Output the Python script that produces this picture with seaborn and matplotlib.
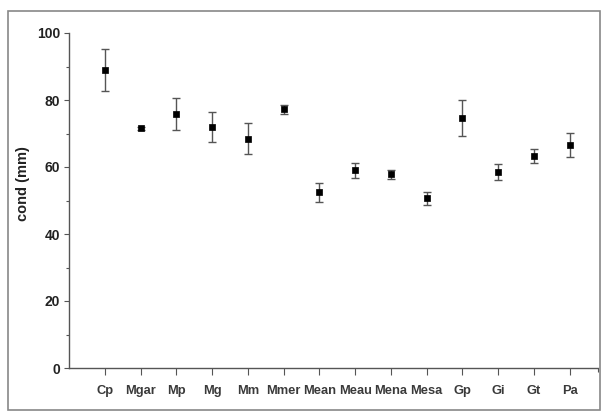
import matplotlib
matplotlib.use("Agg")
import matplotlib.pyplot as plt
import seaborn as sns
import pandas as pd
from matplotlib.patches import Rectangle
from matplotlib.ticker import MultipleLocator

categories = ["Cp", "Mgar", "Mp", "Mg", "Mm", "Mmer", "Mean", "Meau",
              "Mena", "Mesa", "Gp", "Gi", "Gt", "Pa"]
means = [89.0, 71.5, 75.8, 72.0, 68.5, 77.2, 52.4, 59.0,
         57.8, 50.6, 74.6, 58.5, 63.3, 66.6]
errors = [6.2, 0.4, 4.9, 4.5, 4.6, 1.4, 2.8, 2.2,
          1.3, 1.9, 5.4, 2.4, 2.2, 3.6]

df = pd.DataFrame({"pos": range(1, len(categories) + 1),
                   "cat": categories, "mean": means, "err": errors})

sns.set_theme(style="white")
plt.rcParams["font.family"] = ["Liberation Sans", "DejaVu Sans"]

fig = plt.figure(figsize=(6.04, 4.13), dpi=100)
ax = fig.add_axes([69 / 604, 45 / 413, 529.3 / 604, 335 / 413])

ax.errorbar(df["pos"], df["mean"], yerr=df["err"], fmt="none",
            ecolor="#555555", elinewidth=1.0, capsize=3, capthick=1.0, zorder=2)
sns.scatterplot(data=df, x="pos", y="mean", marker="s", s=20, color="black",
                edgecolor="black", linewidth=0.5, ax=ax, zorder=3, legend=False)

ax.set_xlim(0, 14.8)
ax.set_ylim(0, 100)
ax.set_xticks(df["pos"])
ax.set_xticks([14.8], minor=True)
ax.set_xticklabels(categories, fontsize=9.3, fontweight="bold", color="#3a3a3a")
ax.yaxis.set_major_locator(MultipleLocator(20))
ax.yaxis.set_minor_locator(MultipleLocator(10))
for lab in ax.get_yticklabels():
    lab.set_fontsize(10)
    lab.set_fontweight("bold")
    lab.set_color("#222222")

ax.tick_params(axis="x", which="major", direction="out", length=5, width=0.8,
               color="#555555", pad=7, bottom=True)
ax.tick_params(axis="x", which="minor", direction="out", length=3, width=0.8,
               color="#555555", bottom=True)
ax.tick_params(axis="y", which="major", direction="out", length=3.5, width=0.8,
               color="#555555", pad=3, left=True)
ax.tick_params(axis="y", which="minor", direction="out", length=2, width=0.8,
               color="#555555", left=True)

for side in ["top", "right"]:
    ax.spines[side].set_visible(False)
for side in ["left", "bottom"]:
    ax.spines[side].set_color("#555555")
    ax.spines[side].set_linewidth(1.0)

ax.set_xlabel("")
ax.set_ylabel("cond (mm)", fontsize=10.5, fontweight="bold", color="#222222")
ax.yaxis.set_label_coords(-0.074, 0.55)

fig.patches.append(Rectangle((8 / 604, 3 / 413), 592 / 604, 399 / 413,
                             transform=fig.transFigure, fill=False,
                             edgecolor="#888888", linewidth=1.2))

fig.savefig("out.png", dpi=100, facecolor="white")
